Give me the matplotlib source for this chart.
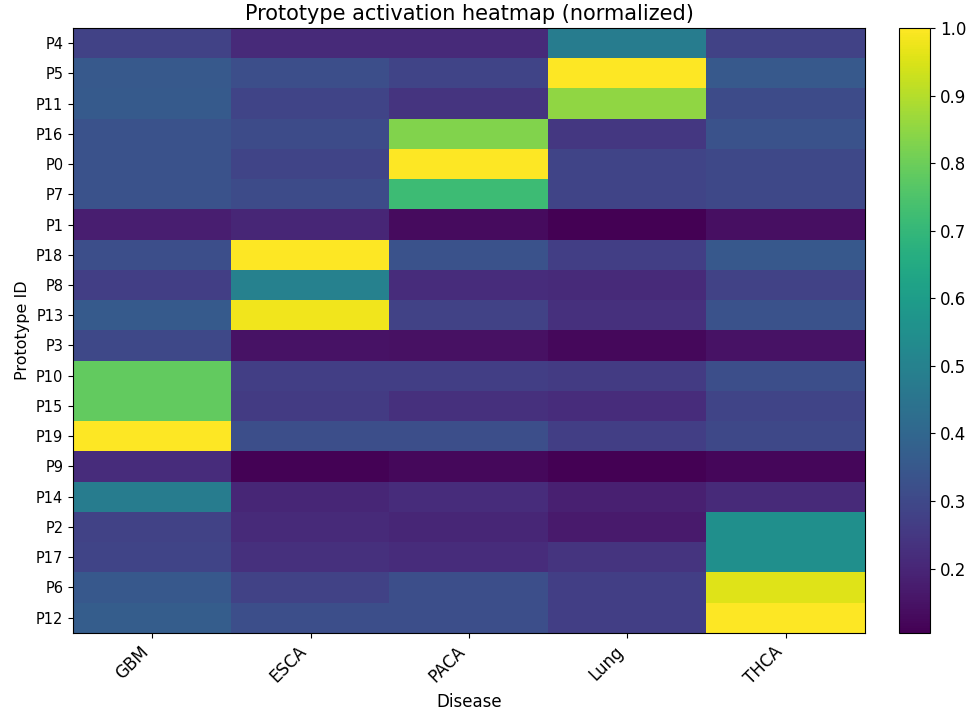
import numpy as np
import matplotlib
matplotlib.use("Agg")
import matplotlib.pyplot as plt

diseases = ["GBM", "ESCA", "PACA", "Lung", "THCA"]
prototypes = ["P4", "P5", "P11", "P16", "P0", "P7", "P1", "P18", "P8", "P13",
              "P3", "P10", "P15", "P19", "P9", "P14", "P2", "P17", "P6", "P12"]

# one list per disease column, rows in prototype order
gbm = [0.28, 0.355, 0.36, 0.33, 0.33, 0.33, 0.18, 0.32, 0.27, 0.36,
       0.30, 0.785, 0.785, 1.00, 0.22, 0.48, 0.28, 0.29, 0.35, 0.37]
esca = [0.21, 0.32, 0.29, 0.31, 0.29, 0.31, 0.20, 1.00, 0.50, 0.98,
        0.15, 0.27, 0.26, 0.32, 0.11, 0.20, 0.21, 0.23, 0.28, 0.32]
paca = [0.21, 0.29, 0.24, 0.83, 1.00, 0.72, 0.13, 0.33, 0.22, 0.28,
        0.145, 0.27, 0.23, 0.32, 0.125, 0.22, 0.20, 0.22, 0.32, 0.32]
lung = [0.48, 1.00, 0.85, 0.25, 0.29, 0.29, 0.105, 0.27, 0.21, 0.23,
        0.125, 0.26, 0.22, 0.27, 0.105, 0.185, 0.17, 0.24, 0.27, 0.27]
thca = [0.28, 0.355, 0.31, 0.33, 0.30, 0.30, 0.14, 0.35, 0.28, 0.33,
        0.15, 0.32, 0.29, 0.30, 0.12, 0.21, 0.55, 0.55, 0.955, 1.00]

data = np.array([gbm, esca, paca, lung, thca]).T

fig = plt.figure(figsize=(9.74, 7.19), dpi=100)
ax = fig.add_axes([0.075, 0.120, 0.813, 0.841])
cax = fig.add_axes([0.923, 0.120, 0.032, 0.841])

im = ax.imshow(data, aspect="auto", cmap="viridis", interpolation="nearest")
ax.set_xticks(range(len(diseases)))
ax.set_xticklabels(diseases, rotation=45, ha="right", fontsize=12)
ax.set_yticks(range(len(prototypes)))
ax.set_yticklabels(prototypes, fontsize=10.5)
ax.set_xlabel("Disease", fontsize=12)
ax.set_ylabel("Prototype ID", fontsize=11.5)
ax.set_title("Prototype activation heatmap (normalized)", fontsize=15)

cb = fig.colorbar(im, cax=cax)
cb.set_ticks(np.arange(0.2, 1.01, 0.1))
cb.ax.tick_params(labelsize=12)

fig.savefig("out.png", dpi=100)
